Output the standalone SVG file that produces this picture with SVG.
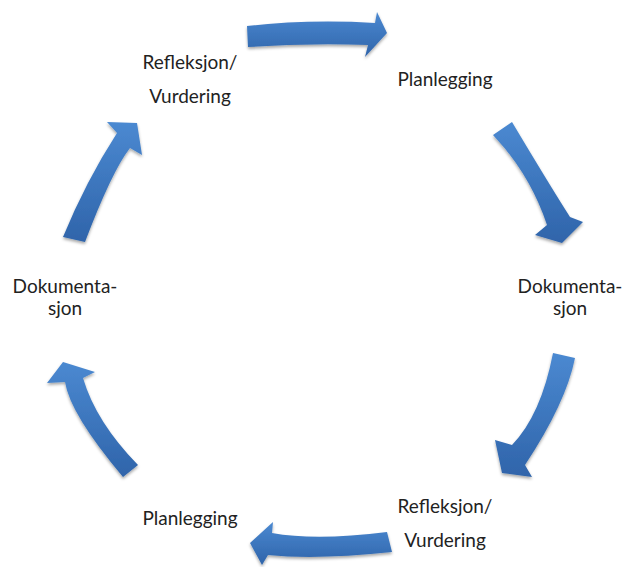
<svg xmlns="http://www.w3.org/2000/svg" width="625" height="567" viewBox="0 0 625 567">
  <defs>
    <linearGradient id="blue" x1="0" y1="0" x2="0" y2="1">
      <stop offset="0" stop-color="#4b89d1"/>
      <stop offset="1" stop-color="#2f64aa"/>
    </linearGradient>
    <filter id="shadow" x="-20%" y="-20%" width="140%" height="140%">
      <feDropShadow dx="0" dy="2" stdDeviation="1.5" flood-color="#000" flood-opacity="0.35"/>
    </filter>
  </defs>
  <style>
    .arrow { fill: url(#blue); filter: url(#shadow); }
    .label { font-family: "Lato", "Open Sans", "Liberation Sans", sans-serif; font-size: 19px; fill: #222; text-anchor: middle; }
  </style>
  <rect width="625" height="567" fill="#fff"/>

  <g id="connectors">
    <path class="arrow" d="M247,26 Q310,19 375,23 L377,12 L387,33 L365,57 L368,45 Q308,43 248,47 Z"/>
    <path class="arrow" d="M512,122 Q549,184 570,217 L583,222 L562,243 L535,235 L547,225 Q530,174 493,135 Z"/>
    <path class="arrow" d="M553,353 L575,358 Q566,403 525,465 L532,477 L502,473 L495,440 L512,445 Q541,415 553,353 Z"/>
    <path class="arrow" d="M387,532 L392,552 Q316,560 268,555 L262,565 L250,543 L273,522 L272,533 Q316,541 387,532 Z"/>
    <path class="arrow" d="M138,465 L123,477 Q70,414 65,382 L47,383 L63,362 L95,372 L83,378 Q96,422 138,465 Z"/>
    <path class="arrow" d="M63,237 Q86,181 117,133 L107,122 L137,123 L142,155 L130,148 Q112,171 85,242 Z"/>
  </g>

  <g id="node-planlegging-1">
    <text class="label" x="445" y="86">Planlegging</text>
  </g>
  <g id="node-dokumentasjon-1">
    <text class="label" x="570" y="293">Dokumenta-</text>
    <text class="label" x="570" y="315">sjon</text>
  </g>
  <g id="node-refleksjon-1">
    <text class="label" x="445" y="513">Refleksjon/</text>
    <text class="label" x="445" y="547">Vurdering</text>
  </g>
  <g id="node-planlegging-2">
    <text class="label" x="190" y="525">Planlegging</text>
  </g>
  <g id="node-dokumentasjon-2">
    <text class="label" x="65" y="293">Dokumenta-</text>
    <text class="label" x="65" y="315">sjon</text>
  </g>
  <g id="node-refleksjon-2">
    <text class="label" x="190" y="69">Refleksjon/</text>
    <text class="label" x="190" y="103">Vurdering</text>
  </g>
</svg>
